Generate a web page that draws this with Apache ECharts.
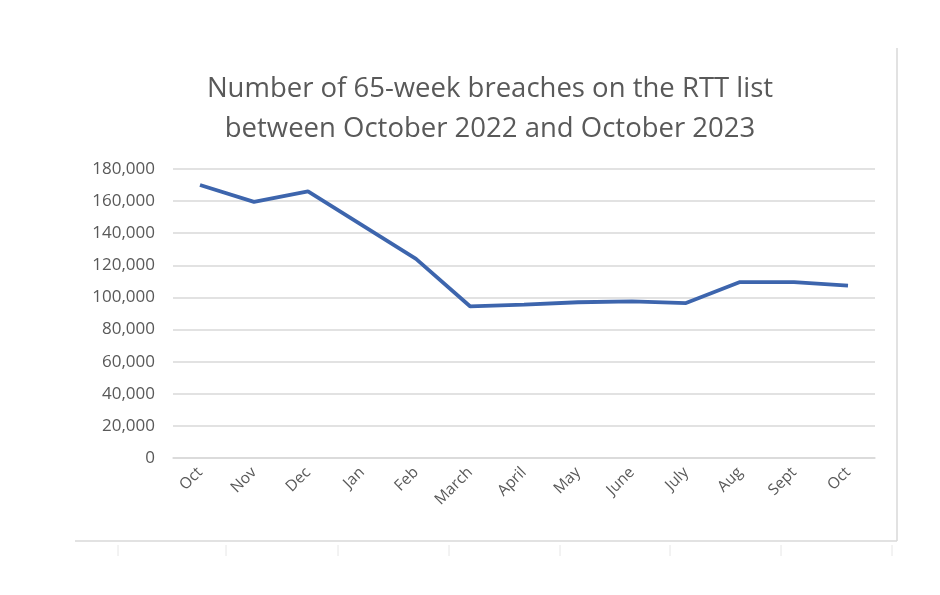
<!DOCTYPE html>
<html>
<head>
<meta charset="utf-8">
<script src="https://cdn.jsdelivr.net/npm/echarts@6/dist/echarts.min.js"></script>
<style>
html,body{margin:0;padding:0;background:#fff;}
#chart{width:940px;height:595px;}
</style>
</head>
<body>
<div id="chart"></div>
<script>
const titleText = 'Number of 65-week breaches on the RTT list\nbetween October 2022 and October 2023';
const months = ['Oct','Nov','Dec','Jan','Feb','March','April','May','June','July','Aug','Sept','Oct'];
const breaches = [170000, 159500, 166000, 145000, 124000, 94500, 95500, 97000, 97600, 96500, 109600, 109600, 107300];
const yTicks = {min: 0, max: 180000, interval: 20000};

const chart = echarts.init(document.getElementById('chart'));
chart.setOption({
  backgroundColor: '#ffffff',
  animation: false,
  title: {
    text: titleText,
    left: 485,
    textAlign: 'center',
    top: 64,
    textStyle: {
      fontFamily: 'Open Sans',
      fontSize: 27.5,
      fontWeight: 'normal',
      color: '#595959',
      lineHeight: 40
    }
  },
  grid: {left: 173, right: 65, top: 169, bottom: 137},
  xAxis: {
    type: 'category',
    data: months,
    boundaryGap: true,
    axisLine: {show: true, lineStyle: {color: '#d9d9d9', width: 1.5}},
    axisTick: {show: false},
    axisLabel: {
      rotate: 45,
      margin: 12,
      fontFamily: 'Open Sans',
      fontSize: 15.5,
      color: '#595959',
      interval: 0
    }
  },
  yAxis: {
    type: 'value',
    min: yTicks.min,
    max: yTicks.max,
    interval: yTicks.interval,
    axisLine: {show: false},
    axisTick: {show: false},
    splitLine: {lineStyle: {color: '#d9d9d9', width: 1.5}},
    axisLabel: {
      margin: 18,
      fontFamily: 'Open Sans',
      fontSize: 17,
      color: '#595959',
      formatter: v => v.toLocaleString('en-US')
    }
  },
  series: [{
    type: 'line',
    data: breaches,
    symbol: 'none',
    lineStyle: {color: '#3d65ad', width: 3.8},
    itemStyle: {color: '#3d65ad'}
  }],
  graphic: [
    {type: 'line', shape: {x1: 897, y1: 48, x2: 897, y2: 541}, style: {stroke: '#d9d9d9', lineWidth: 1.5}},
    {type: 'line', shape: {x1: 75, y1: 541, x2: 897, y2: 541}, style: {stroke: '#d9d9d9', lineWidth: 1.5}},
    {type: 'line', shape: {x1: 118, y1: 545, x2: 118, y2: 556}, style: {stroke: '#e6e6e6', lineWidth: 1}},
    {type: 'line', shape: {x1: 226, y1: 545, x2: 226, y2: 556}, style: {stroke: '#e6e6e6', lineWidth: 1}},
    {type: 'line', shape: {x1: 338, y1: 545, x2: 338, y2: 556}, style: {stroke: '#e6e6e6', lineWidth: 1}},
    {type: 'line', shape: {x1: 449, y1: 545, x2: 449, y2: 556}, style: {stroke: '#e6e6e6', lineWidth: 1}},
    {type: 'line', shape: {x1: 560, y1: 545, x2: 560, y2: 556}, style: {stroke: '#e6e6e6', lineWidth: 1}},
    {type: 'line', shape: {x1: 670, y1: 545, x2: 670, y2: 556}, style: {stroke: '#e6e6e6', lineWidth: 1}},
    {type: 'line', shape: {x1: 781, y1: 545, x2: 781, y2: 556}, style: {stroke: '#e6e6e6', lineWidth: 1}},
    {type: 'line', shape: {x1: 892, y1: 545, x2: 892, y2: 556}, style: {stroke: '#e6e6e6', lineWidth: 1}}
  ]
});
</script>
</body>
</html>
